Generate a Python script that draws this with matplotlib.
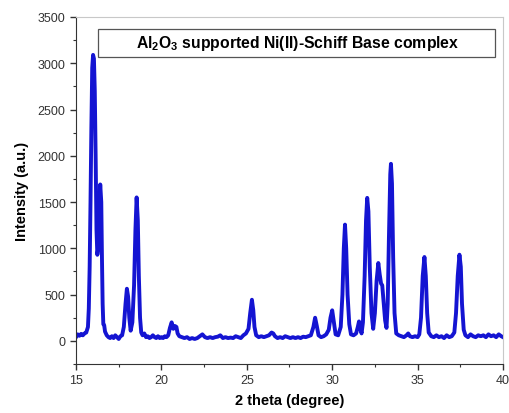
import matplotlib
matplotlib.use('Agg')
import matplotlib.pyplot as plt
from matplotlib.patches import Rectangle
from matplotlib.ticker import MultipleLocator

plt.rcParams['font.family'] = ['Liberation Sans', 'DejaVu Sans']
plt.rcParams['mathtext.fontset'] = 'custom'
plt.rcParams['mathtext.bf'] = 'Liberation Sans:bold'
plt.rcParams['mathtext.rm'] = 'Liberation Sans:bold'

# 2 theta (degree) and intensity (a.u.)
two_theta = [
    15.0, 15.1, 15.2, 15.3, 15.4, 15.5, 15.6, 15.7,
    15.75, 15.8, 15.85, 15.9, 15.95, 16.0, 16.05, 16.1, 16.15, 16.2, 16.25, 16.3,
    16.35, 16.42, 16.48, 16.52, 16.56, 16.6, 16.65, 16.7, 16.8, 16.9, 17.0, 17.1,
    17.2, 17.3, 17.4, 17.5, 17.6, 17.7, 17.8, 17.9, 17.98, 18.05, 18.12, 18.2,
    18.3, 18.4, 18.48, 18.55, 18.62, 18.68, 18.75, 18.82, 18.9, 19.0, 19.1, 19.2,
    19.3, 19.4, 19.5, 19.6, 19.7, 19.8, 19.9, 20.0, 20.1, 20.2, 20.3, 20.4,
    20.5, 20.6, 20.7, 20.8, 20.88, 20.95, 21.05, 21.2, 21.35, 21.5, 21.65, 21.8,
    21.95, 22.1, 22.25, 22.4, 22.55, 22.7, 22.85, 23.0, 23.15, 23.3, 23.45, 23.6,
    23.75, 23.9, 24.05, 24.2, 24.35, 24.5, 24.65, 24.8, 24.95, 25.1, 25.2, 25.3,
    25.38, 25.45, 25.55, 25.7, 25.85, 26.0, 26.15, 26.3, 26.45, 26.55, 26.65, 26.8,
    26.95, 27.1, 27.25, 27.4, 27.55, 27.7, 27.85, 28.0, 28.15, 28.3, 28.45, 28.6,
    28.75, 28.9, 29.0, 29.1, 29.2, 29.35, 29.5, 29.65, 29.8, 29.9, 30.0, 30.1,
    30.2, 30.35, 30.5, 30.6, 30.68, 30.75, 30.82, 30.9, 31.0, 31.1, 31.25, 31.4,
    31.5, 31.57, 31.65, 31.72, 31.8, 31.9, 31.98, 32.05, 32.12, 32.2, 32.3, 32.4,
    32.5, 32.6, 32.7, 32.78, 32.86, 32.93, 33.02, 33.1, 33.18, 33.25, 33.32, 33.4,
    33.44, 33.5, 33.57, 33.65, 33.75, 33.9, 34.05, 34.2, 34.35, 34.45, 34.55, 34.7,
    34.85, 35.0, 35.1, 35.2, 35.3, 35.4, 35.48, 35.56, 35.65, 35.8, 35.95, 36.1,
    36.25, 36.4, 36.55, 36.7, 36.85, 37.0, 37.15, 37.25, 37.35, 37.45, 37.53, 37.6,
    37.7, 37.8, 37.95, 38.1, 38.25, 38.4, 38.55, 38.7, 38.85, 39.0, 39.15, 39.3,
    39.45, 39.6, 39.75, 39.9, 40.0,
]
intensity = [
    40, 70, 55, 75, 60, 80, 90, 150,
    350, 800, 1500, 2300, 2950, 3090, 3050, 2700, 2000, 1200, 930, 1000,
    1400, 1690, 1500, 900, 400, 180, 170, 100, 60, 40, 30, 50,
    30, 60, 40, 20, 50, 60, 150, 400, 563, 480, 250, 110,
    200, 600, 1200, 1550, 1300, 700, 250, 90, 60, 80, 40, 50,
    30, 40, 60, 40, 30, 50, 30, 40, 30, 50, 40, 60,
    140, 200, 130, 160, 150, 80, 50, 40, 30, 40, 20, 30,
    20, 30, 50, 70, 40, 30, 40, 30, 40, 45, 60, 30,
    40, 30, 35, 30, 50, 40, 30, 60, 80, 130, 300, 444,
    330, 150, 60, 40, 50, 40, 50, 60, 90, 80, 50, 30,
    40, 30, 50, 40, 30, 40, 30, 40, 30, 45, 40, 50,
    60, 150, 250, 160, 60, 40, 50, 70, 120, 250, 330, 200,
    70, 60, 150, 500, 1000, 1256, 1000, 500, 180, 70, 60, 80,
    150, 210, 130, 80, 200, 700, 1300, 1545, 1400, 800, 300, 130,
    300, 650, 841, 720, 620, 600, 400, 220, 140, 400, 1100, 1800,
    1913, 1700, 900, 300, 80, 60, 50, 40, 60, 80, 50, 40,
    50, 40, 70, 250, 700, 906, 700, 300, 90, 50, 40, 60,
    40, 50, 30, 60, 40, 50, 90, 300, 700, 931, 800, 400,
    120, 60, 40, 70, 50, 40, 60, 50, 60, 40, 70, 50,
    60, 40, 70, 50, 40,
]
title_text = r'$\mathbf{Al_2O_3}$ supported Ni(II)-Schiff Base complex'

fig = plt.figure(figsize=(5.09, 4.14), dpi=100)
ax = fig.add_axes([0.1493, 0.1184, 0.8389, 0.8382])

ax.plot(two_theta, intensity, color='#1414d2', lw=2.8, solid_joinstyle='round')

ax.set_xlim(15, 40)
ax.set_ylim(-250, 3500)
ax.xaxis.set_major_locator(MultipleLocator(5))
ax.xaxis.set_minor_locator(MultipleLocator(2.5))
ax.set_yticks(range(0, 3501, 500))
ax.yaxis.set_minor_locator(MultipleLocator(250))
ax.tick_params(which='both', direction='out', labelsize=9, colors='#333333',
               labelcolor='#333333')
ax.tick_params(which='major', length=4, width=1)
ax.tick_params(which='minor', length=2.5, width=0.8)

for s in ['top', 'right']:
    ax.spines[s].set_color('#c8c8c8')
for s in ['left', 'bottom']:
    ax.spines[s].set_color('#333333')

ax.set_xlabel('2 theta (degree)', fontsize=10.5, fontweight='bold', labelpad=5)
ax.set_ylabel('Intensity (a.u.)', fontsize=10.5, fontweight='bold', labelpad=6)

# boxed label
ax.add_patch(Rectangle((0.051, 0.886), 0.9305, 0.08, transform=ax.transAxes,
                       fill=False, edgecolor='#555555', lw=0.9))
ax.text(0.52, 0.926, title_text, transform=ax.transAxes, ha='center', va='center',
        fontsize=11.3, fontweight='bold')

fig.savefig('out.png', dpi=100)
